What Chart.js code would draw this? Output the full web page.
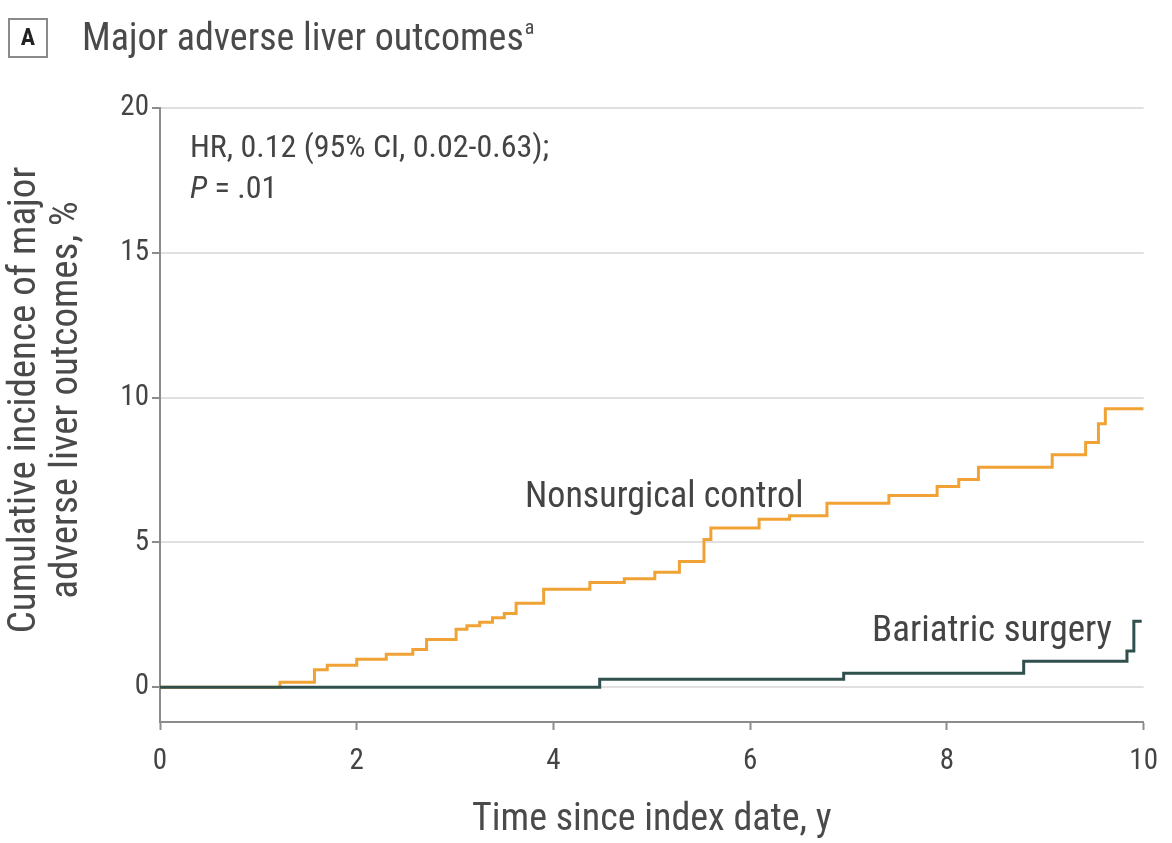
<!DOCTYPE html>
<html>
<head>
<meta charset="utf-8">
<script src="https://cdn.jsdelivr.net/npm/chart.js@4"></script>
<style>
  html, body { margin: 0; padding: 0; background: #fff; }
  #wrap { position: relative; width: 1172px; height: 843px; }
  canvas { display: block; }
</style>
</head>
<body>
<div id="wrap"><canvas id="km" width="1172" height="843"></canvas></div>
<script>
// Cumulative incidence (%) by years since index date; each value holds from its time onward
const controlYears = [0, 1.22, 1.57, 1.70, 2.00, 2.30, 2.57, 2.71, 3.01, 3.12, 3.25, 3.38, 3.50, 3.62, 3.90, 4.37, 4.72, 5.03, 5.28, 5.53, 5.60, 6.09, 6.40, 6.78, 7.41, 7.90, 8.12, 8.32, 9.07, 9.41, 9.54, 9.61, 10.0];
const controlIncidence = [0, 0.17, 0.60, 0.76, 0.97, 1.14, 1.30, 1.65, 2.00, 2.12, 2.24, 2.40, 2.55, 2.90, 3.38, 3.62, 3.75, 3.97, 4.34, 5.10, 5.50, 5.80, 5.92, 6.35, 6.62, 6.93, 7.17, 7.60, 8.03, 8.45, 9.10, 9.62, 9.62];

const surgeryYears = [0, 4.47, 6.95, 8.78, 9.83, 9.90, 9.98];
const surgeryIncidence = [0, 0.28, 0.48, 0.90, 1.25, 2.28, 2.28];

const yTickValues = [0, 5, 10, 15, 20];
const xTickValues = [0, 2, 4, 6, 8, 10];

const FONT = '"Roboto Condensed", "Open Sans", sans-serif';
const TEXT = '#444444';
const ORANGE = '#f0a234';
const SLATE = '#30504e';

function toPoints(xs, ys) {
  return xs.map((x, i) => ({ x: x, y: ys[i] }));
}

// Headline, y-axis title, statistics note and in-plot series labels
const annotations = {
  id: 'annotations',
  afterDraw(chart) {
    const ctx = chart.ctx;
    ctx.save();
    // panel letter box
    ctx.strokeStyle = '#8a8a8a';
    ctx.lineWidth = 2;
    ctx.strokeRect(9, 19, 38, 38);
    ctx.fillStyle = '#222';
    ctx.font = 'bold 24px ' + FONT;
    ctx.textAlign = 'center';
    ctx.textBaseline = 'middle';
    ctx.fillText('A', 28, 39);

    // headline with footnote marker
    ctx.textAlign = 'left';
    ctx.textBaseline = 'alphabetic';
    ctx.fillStyle = '#4a4a4a';
    ctx.font = '38px ' + FONT;
    const head = 'Major adverse liver outcomes';
    ctx.fillText(head, 82, 50);
    const hw = ctx.measureText(head).width;
    ctx.font = '20px ' + FONT;
    ctx.fillText('a', 82 + hw + 1, 34);

    // y-axis title, two lines reading upward
    ctx.save();
    ctx.translate(0, 400);
    ctx.rotate(-Math.PI / 2);
    ctx.textAlign = 'center';
    ctx.fillStyle = '#4a4a4a';
    ctx.font = '39px ' + FONT;
    ctx.fillText('Cumulative incidence of major', 0, 35);
    ctx.fillText('adverse liver outcomes, %', 0, 77);
    ctx.restore();

    // hazard ratio note
    ctx.fillStyle = TEXT;
    ctx.font = '32px ' + FONT;
    ctx.fillText('HR, 0.12 (95% CI, 0.02-0.63);', 190, 157);
    ctx.font = 'italic 32px ' + FONT;
    ctx.fillText('P', 190, 198);
    const pw = ctx.measureText('P').width;
    ctx.font = '32px ' + FONT;
    ctx.fillText(' = .01', 190 + pw, 198);

    // series labels
    ctx.font = '36px ' + FONT;
    ctx.fillText('Nonsurgical control', 525, 507);
    ctx.font = '37px ' + FONT;
    ctx.fillText('Bariatric surgery', 872, 641);
    ctx.restore();
  }
};

new Chart(document.getElementById('km'), {
  type: 'line',
  data: {
    datasets: [
      {
        label: 'Nonsurgical control',
        data: toPoints(controlYears, controlIncidence),
        borderColor: ORANGE,
        borderWidth: 3,
        stepped: 'before',
        pointRadius: 0,
        fill: false,
        order: 2
      },
      {
        label: 'Bariatric surgery',
        data: toPoints(surgeryYears, surgeryIncidence),
        borderColor: SLATE,
        borderWidth: 3,
        stepped: 'before',
        pointRadius: 0,
        fill: false,
        order: 1
      }
    ]
  },
  options: {
    responsive: false,
    animation: false,
    devicePixelRatio: 1,
    layout: { padding: { top: 108, right: 27, left: 0, bottom: 0 } },
    plugins: {
      legend: { display: false },
      tooltip: { enabled: false }
    },
    scales: {
      x: {
        type: 'linear',
        min: 0,
        max: 10,
        afterBuildTicks: s => { s.ticks = xTickValues.map(v => ({ value: v })); },
        afterFit: s => { s.height = 121; },
        border: { display: true, color: '#8c8c8c', width: 2 },
        grid: { drawOnChartArea: false, drawTicks: true, tickLength: 8, tickColor: '#8c8c8c', tickWidth: 2 },
        ticks: { color: TEXT, font: { family: FONT, size: 29 }, padding: 14, maxRotation: 0 },
        title: {
          display: true,
          text: 'Time since index date, y',
          color: '#4a4a4a',
          font: { family: FONT, size: 38 },
          padding: { top: 0, bottom: 0 }
        }
      },
      y: {
        type: 'linear',
        min: -1.2,
        max: 20,
        afterBuildTicks: s => { s.ticks = yTickValues.map(v => ({ value: v })); },
        afterFit: s => { s.width = 160; },
        border: { display: true, color: '#8c8c8c', width: 2 },
        grid: { color: '#e0e0e0', lineWidth: 2, drawTicks: true, tickLength: 8, tickColor: '#8c8c8c', tickWidth: 2 },
        ticks: { color: TEXT, font: { family: FONT, size: 29 }, padding: 3 }
      }
    }
  },
  plugins: [annotations]
});
</script>
</body>
</html>
